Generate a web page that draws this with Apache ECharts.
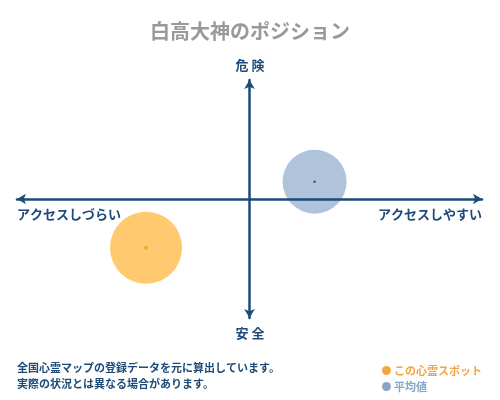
<!DOCTYPE html>
<html>
<head>
<meta charset="utf-8">
<script src="https://cdn.jsdelivr.net/npm/echarts@6/dist/echarts.min.js"></script>
<style>
  html, body { margin: 0; padding: 0; background: #fff; }
  #chart-container { width: 500px; height: 400px; }
</style>
</head>
<body>
<div id="chart-container"></div>
<script>
var dom = document.getElementById('chart-container');
var myChart = echarts.init(dom, null, { renderer: 'canvas' });

var FONT = "'Noto Sans CJK JP', serif";
var NAVY = '#1d4a78';

// data
var seriesNames = ['この心霊スポット', '平均値'];
var accessValues = [-0.445, 0.28];   // x: しづらい(-) ... しやすい(+)
var dangerValues = [-0.41, 0.145];   // y: 安全(-) ... 危険(+)
var bubbleSizes = [72, 64];
var bubbleColors = ['#fec96f', '#afc3da'];
var legendColors = ['#f2a541', '#86a6c8'];
var dotColors = ['#f0a020', '#333333'];
var axisNames = { top: '危 険', bottom: '安 全', left: 'アクセスしづらい', right: 'アクセスしやすい' };
var noteLines = ['全国心霊マップの登録データを元に算出しています。', '実際の状況とは異なる場合があります。'];

var series = [];
seriesNames.forEach(function (name, i) {
  series.push({
    name: name,
    type: 'scatter',
    symbol: 'circle',
    symbolSize: bubbleSizes[i],
    itemStyle: { color: bubbleColors[i], opacity: 1 },
    data: [[accessValues[i], dangerValues[i]]],
    z: 2
  });
});
seriesNames.forEach(function (name, i) {
  series.push({
    name: name + '_dot',
    type: 'scatter',
    symbol: i === 0 ? 'diamond' : 'circle',
    symbolSize: i === 0 ? 5 : 2.5,
    itemStyle: { color: dotColors[i] },
    data: [[accessValues[i], dangerValues[i]]],
    silent: true,
    z: 3
  });
});

var axisCommon = {
  type: 'value',
  min: -1,
  max: 1,
  z: 10,
  splitLine: { show: false },
  axisTick: { show: false },
  axisLabel: { show: false },
  axisLine: {
    show: true,
    onZero: true,
    symbol: ['arrow', 'arrow'],
    symbolSize: [8, 9],
    lineStyle: { color: NAVY, width: 2.5 }
  }
};

var option = {
  backgroundColor: '#fff',
  title: {
    text: '白高大神のポジション',
    left: 'center',
    top: 16,
    textStyle: { fontFamily: FONT, fontSize: 20, fontWeight: 'bold', color: '#999' }
  },
  legend: {
    orient: 'vertical',
    left: 377,
    top: 360,
    itemWidth: 9,
    itemHeight: 9,
    itemGap: 5,
    icon: 'circle',
    selectedMode: false,
    data: seriesNames.map(function (n, i) {
      return {
        name: n,
        itemStyle: { color: legendColors[i] },
        textStyle: { color: legendColors[i] }
      };
    }),
    textStyle: { fontFamily: FONT, fontSize: 11, fontWeight: 'bold', padding: [0, 0, 0, -2] }
  },
  grid: { left: 17, right: 18, top: 80, bottom: 82 },
  xAxis: axisCommon,
  yAxis: axisCommon,
  graphic: [
    { type: 'text', left: 'center', top: 59, z: 100,
      style: { text: axisNames.top, fontFamily: FONT, fontSize: 13, fontWeight: 'bold', fill: NAVY } },
    { type: 'text', left: 'center', top: 327, z: 100,
      style: { text: axisNames.bottom, fontFamily: FONT, fontSize: 13, fontWeight: 'bold', fill: NAVY } },
    { type: 'text', left: 17, top: 208, z: 100,
      style: { text: axisNames.left, fontFamily: FONT, fontSize: 13, fontWeight: 'bold', fill: NAVY } },
    { type: 'text', right: 18, top: 208, z: 100,
      style: { text: axisNames.right, fontFamily: FONT, fontSize: 13, fontWeight: 'bold', fill: NAVY } },
    { type: 'text', left: 17, top: 360, z: 100,
      style: { text: noteLines.join('\n'), lineHeight: 16, fontFamily: FONT, fontSize: 11, fontWeight: 'bold', fill: NAVY } }
  ],
  series: series
};

myChart.setOption(option);
window.addEventListener('resize', myChart.resize);
</script>
</body>
</html>
